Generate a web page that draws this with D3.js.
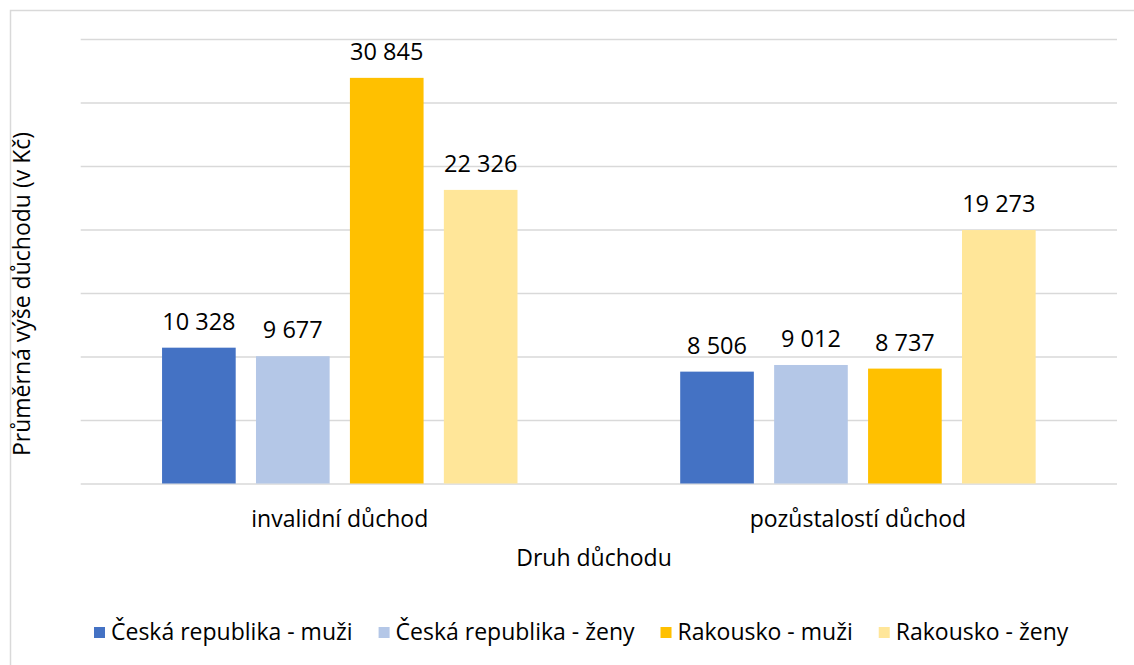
<!DOCTYPE html>
<html>
<head>
<meta charset="utf-8">
<script src="https://cdn.jsdelivr.net/npm/d3@7"></script>
<style>
  html, body { margin: 0; padding: 0; background: #ffffff; }
  svg { display: block; font-family: "Open Sans", sans-serif; }
</style>
</head>
<body>
<svg id="chart" width="1134" height="665"></svg>
<script>
// ---- data ----
const categories = ["invalidní důchod", "pozůstalostí důchod"];
const seriesNames = ["Česká republika - muži", "Česká republika - ženy", "Rakousko - muži", "Rakousko - ženy"];
const ceskaMuzi = [10328, 8506];
const ceskaZeny = [9677, 9012];
const rakouskoMuzi = [30845, 8737];
const rakouskoZeny = [22326, 19273];
const gridTicks = [0, 4829, 9657, 14486, 19314, 24143, 28971, 33800];
const seriesColors = ["#4472C4", "#B4C7E7", "#FFC000", "#FFE699"];
const xTitle = "Druh důchodu";
const yTitle = "Průměrná výše důchodu (v Kč)";

const seriesValues = [ceskaMuzi, ceskaZeny, rakouskoMuzi, rakouskoZeny];
const rows = categories.map((c, i) => ({
  cat: c,
  vals: seriesNames.map((s, j) => ({ series: s, value: seriesValues[j][i], color: seriesColors[j] }))
}));

const svg = d3.select("#chart");
const fmt = v => d3.format(",")(v).replace(/,/g, " ");
const FS = 23;

// chart frame
svg.append("rect").attr("x", 10.5).attr("y", 10.5).attr("width", 1140).attr("height", 680)
  .attr("fill", "#fff").attr("stroke", "#d9d9d9").attr("stroke-width", 1.5);

const plot = { left: 80.7, right: 1117, top: 39, bottom: 483.5 };

const x0 = d3.scaleBand().domain(categories).range([plot.left, plot.right]).paddingInner(0).paddingOuter(0);
const bw = x0.bandwidth();
const x1 = d3.scaleBand().domain(seriesNames).range([bw * 0.157, bw * 0.843]).paddingInner(0.216).paddingOuter(0);
const y = d3.scaleLinear().domain([0, gridTicks[gridTicks.length - 1]]).range([plot.bottom, plot.top]);

// gridlines via axis
const gridAxis = d3.axisLeft(y).tickValues(gridTicks).tickSize(-(plot.right - plot.left)).tickFormat("");
const gg = svg.append("g").attr("transform", `translate(${plot.left},0)`).call(gridAxis);
gg.select(".domain").remove();
gg.selectAll(".tick line").attr("stroke", "#d9d9d9").attr("stroke-width", 1.5);

// bars
const groups = svg.append("g").selectAll("g").data(rows).join("g")
  .attr("transform", d => `translate(${x0(d.cat)},0)`);
groups.selectAll("rect").data(d => d.vals).join("rect")
  .attr("x", d => x1(d.series))
  .attr("width", x1.bandwidth())
  .attr("y", d => y(d.value))
  .attr("height", d => y(0) - y(d.value))
  .attr("fill", d => d.color);
groups.selectAll("text").data(d => d.vals).join("text")
  .attr("x", d => x1(d.series) + x1.bandwidth() / 2)
  .attr("y", d => y(d.value) - 18)
  .attr("text-anchor", "middle")
  .attr("font-size", 23.5)
  .attr("fill", "#000")
  .text(d => fmt(d.value));

// x axis labels
const xAxis = d3.axisBottom(x0).tickSize(0).tickPadding(0);
const xg = svg.append("g").attr("transform", `translate(0,${plot.bottom})`).call(xAxis);
xg.select(".domain").remove();
xg.selectAll("text").attr("font-size", FS).attr("fill", "#000")
  .attr("font-family", "Open Sans, sans-serif")
  .attr("dy", null).attr("y", 43.5);

// axis titles
svg.append("text").attr("x", 594).attr("y", 566)
  .attr("text-anchor", "middle").attr("font-size", FS).attr("fill", "#000").text(xTitle);
svg.append("text").attr("transform", "translate(30,294) rotate(-90)")
  .attr("text-anchor", "middle").attr("font-size", FS).attr("fill", "#000").text(yTitle);

// legend
const legend = svg.append("g");
let lx = 94;
seriesNames.forEach((s, i) => {
  const g = legend.append("g").attr("transform", `translate(${lx},0)`);
  g.append("rect").attr("x", 0).attr("y", 627).attr("width", 11).attr("height", 11).attr("fill", seriesColors[i]);
  const t = g.append("text").attr("x", 17).attr("y", 640).attr("font-size", FS).attr("fill", "#000").text(s);
  lx += 17 + t.node().getComputedTextLength() + 26;
});
</script>
</body>
</html>
